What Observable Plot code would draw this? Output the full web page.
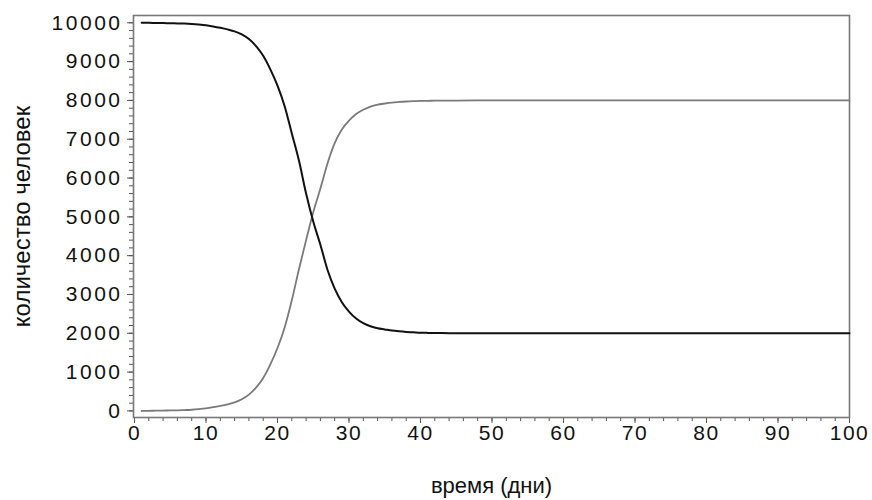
<!DOCTYPE html>
<html>
<head>
<meta charset="utf-8">
<script src="https://cdn.jsdelivr.net/npm/d3@7"></script>
<script src="https://cdn.jsdelivr.net/npm/@observablehq/plot@0.6"></script>
<style>
  html, body { margin: 0; padding: 0; background: #fff; }
  #chart svg { display: block; font-family: "Liberation Sans", Arial, sans-serif; }
  #chart g[aria-label="y-axis tick label"] { letter-spacing: 2.5px; }
  #chart g[aria-label="x-axis tick label"] { letter-spacing: 1.5px; }
</style>
</head>
<body>
<div id="chart"></div>
<script>
// time (days)
const days = [1,2,3,4,5,6,7,8,9,10,11,12,13,14,15,16,17,18,19,20,21,22,23,24,25,26,27,28,29,30,31,32,33,34,35,36,37,38,39,40,41,42,43,45,50,60,70,80,90,100];
// black series (declining)
const seriesBlack = [10000,10000,9995,9993,9990,9985,9980,9970,9955,9935,9905,9870,9830,9780,9700,9580,9400,9150,8800,8380,7850,7150,6450,5600,4880,4280,3630,3150,2800,2560,2380,2260,2180,2130,2100,2070,2050,2035,2025,2015,2010,2007,2005,2003,2000,2000,2000,2000,2000,2000];
// gray series (rising)
const seriesGray = [0,2,5,8,12,16,22,30,45,65,95,130,170,220,300,420,600,850,1200,1620,2150,2850,3650,4400,5120,5730,6380,6900,7250,7480,7650,7760,7840,7890,7920,7945,7960,7972,7980,7986,7990,7993,7995,7997,8000,8000,8000,8000,8000,8000];
const xTicks = [0,10,20,30,40,50,60,70,80,90,100];
const yTicks = [0,1000,2000,3000,4000,5000,6000,7000,8000,9000,10000];
const xLabel = "время (дни)";
const yLabel = "количество человек";

const black = days.map((d, i) => ({t: d, v: seriesBlack[i]}));
const gray = days.map((d, i) => ({t: d, v: seriesGray[i]}));

const chart = Plot.plot({
  width: 872,
  height: 500,
  marginLeft: 133,
  marginRight: 23,
  marginTop: 15,
  marginBottom: 83,
  style: {fontFamily: "Liberation Sans, Arial, sans-serif", background: "#fff"},
  x: {domain: [0, 100], range: [134, 849]},
  y: {domain: [-170, 10188]},
  marks: [
    // minor ticks
    Plot.axisX({ticks: d3.range(0, 101, 2), tickSize: 4, text: null, stroke: "#555", label: null}),
    Plot.axisY({ticks: d3.range(0, 10001, 200), tickSize: 4, text: null, stroke: "#555", label: null}),
    // major ticks with labels
    Plot.axisX({ticks: xTicks, tickFormat: d => String(d), tickSize: 6, tickPadding: 2, stroke: "#555", fill: "#111", fontSize: 21, label: null}),
    Plot.axisY({ticks: yTicks, tickFormat: d => String(d), tickSize: 6, tickPadding: 5, stroke: "#555", fill: "#111", fontSize: 21, label: null}),
    Plot.frame({stroke: "#777", strokeWidth: 1.6}),
    Plot.line(gray, {x: "t", y: "v", stroke: "#7a7a7a", strokeWidth: 1.8, curve: "monotone-x"}),
    Plot.line(black, {x: "t", y: "v", stroke: "#111", strokeWidth: 2, curve: "monotone-x"}),
    Plot.text([yLabel], {frameAnchor: "left", textAnchor: "middle", text: d => d, rotate: -90, dx: -111, fontSize: 24, fill: "#111"}),
    Plot.text([xLabel], {frameAnchor: "bottom", textAnchor: "middle", text: d => d, dy: 75, fontSize: 22, fill: "#111"})
  ]
});
document.getElementById("chart").appendChild(chart);
</script>
</body>
</html>
